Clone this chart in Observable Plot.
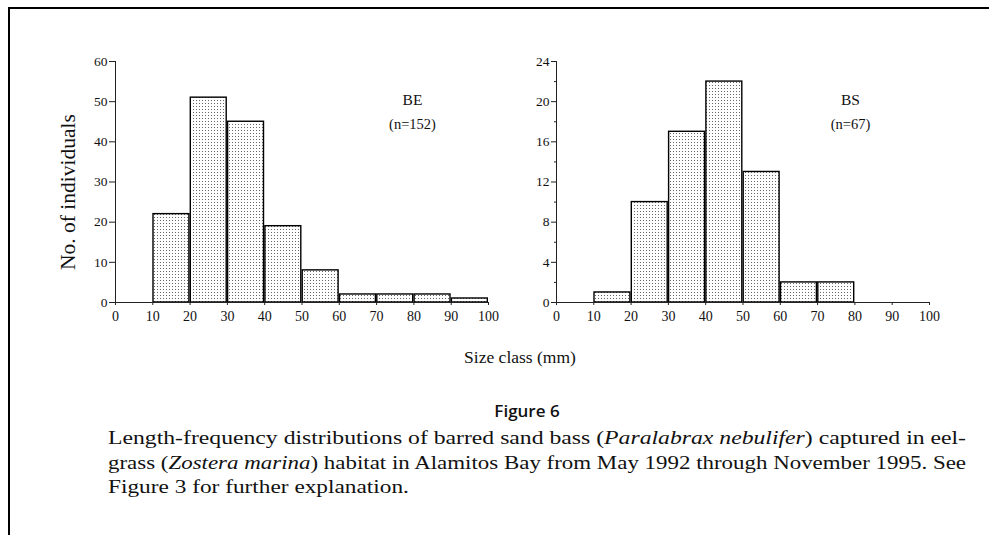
<!DOCTYPE html>
<html>
<head>
<meta charset="utf-8">
<script src="https://cdn.jsdelivr.net/npm/d3@7"></script>
<script src="https://cdn.jsdelivr.net/npm/@observablehq/plot@0.6"></script>
<style>
  html, body { margin: 0; padding: 0; background: #fff; }
  #root { position: relative; width: 989px; height: 535px; overflow: hidden; font-family: "Liberation Serif", serif; }
  #frame { position: absolute; left: 8px; top: 7px; width: 990px; height: 540px; border-left: 2px solid #000; border-top: 2px solid #000; }
  .chart { position: absolute; top: 0; }
  #xlabel { position: absolute; left: 0; width: 1040px; top: 347px; text-align: center; font-size: 17.5px; color: #111; }
  #fig { position: absolute; left: 0; width: 1054px; top: 399px; text-align: center; font-family: "Open Sans", sans-serif; font-weight: 600; font-size: 17px; color: #111; }
  #caption { position: absolute; left: 108px; top: 426px; font-family: "Liberation Serif", serif; font-size: 18.5px; line-height: 24.5px; color: #111; }
  #caption .l { white-space: nowrap; transform-origin: 0 50%; }
</style>
</head>
<body>
<div id="root">
  <svg width="0" height="0" style="position:absolute">
    <defs>
      <pattern id="dots" width="3" height="3" patternUnits="userSpaceOnUse">
        <rect width="3" height="3" fill="#fff"></rect>
        <rect x="1" y="1" width="1" height="1" fill="#666"></rect>
      </pattern>
    </defs>
  </svg>
  <div id="frame"></div>
  <div id="c1" class="chart" style="left:0px"></div>
  <div id="c2" class="chart" style="left:495px"></div>
  <div id="xlabel">Size class (mm)</div>
  <div id="fig">Figure 6</div>
  <div id="caption">
    <div class="l"><span>Length-frequency distributions of barred sand bass (<i>Paralabrax nebulifer</i>) captured in eel-</span></div>
    <div class="l"><span>grass (<i>Zostera marina</i>) habitat in Alamitos Bay from May 1992 through November 1995. See</span></div>
    <div class="l"><span>Figure 3 for further explanation.</span></div>
  </div>
</div>
<script>
// Size class lower bounds (mm)
const sizeClasses = [0, 10, 20, 30, 40, 50, 60, 70, 80, 90];
const classWidth = 10;
// Counts per size class
const countsBE = [0, 22, 51, 45, 19, 8, 2, 2, 2, 1];
const countsBS = [0, 1, 10, 17, 22, 13, 2, 2, 0, 0];
// Tick labels
const xTicks = [0, 10, 20, 30, 40, 50, 60, 70, 80, 90, 100];
const yTicksBE = [0, 10, 20, 30, 40, 50, 60];
const yTicksBS = [0, 4, 8, 12, 16, 20, 24];
const yMinorBS = [2, 6, 10, 14, 18, 22];
const panelBE = ["BE", "(n=152)"];
const panelBS = ["BS", "(n=67)"];
const yTitle = "No. of individuals";

const serif = "Liberation Serif";

function makeChart({counts, yTicks, yMinor, yMax, labels, width, marginLeft, marginRight, tickSize, labelDx, withTitle}) {
  const data = sizeClasses.map((lo, i) => ({lo, hi: lo + classWidth, n: counts[i]}));
  const marks = [
    Plot.rectY(data, {x1: "lo", x2: "hi", y: "n", fill: "url(#dots)", stroke: "#000", strokeWidth: 1.4, insetLeft: 0.7, insetRight: 0.7}),
    Plot.ruleY([0], {stroke: "#222", strokeWidth: 1.2}),
    Plot.ruleX([0], {stroke: "#222", strokeWidth: 1}),
    Plot.axisY({ticks: yTicks, tickSize: tickSize, tickPadding: 2, fontSize: 13.5, stroke: "#222", fill: "#111", label: null}),
    Plot.axisX({ticks: xTicks, tickSize: 3, tickPadding: 6, fontSize: 14, stroke: "#222", fill: "#111", label: null, tickFormat: d => String(d)}),
    Plot.text([labels[0]], {text: d => d, frameAnchor: "top-right", textAnchor: "middle", lineAnchor: "middle", dx: labelDx, dy: 39, fontSize: 15.5, fill: "#111"}),
    Plot.text([labels[1]], {text: d => d, frameAnchor: "top-right", textAnchor: "middle", lineAnchor: "middle", dx: labelDx, dy: 63, fontSize: 14.5, fill: "#111"})
  ];
  if (yMinor) {
    marks.push(Plot.axisY({ticks: yMinor, tickSize: 2, text: null, stroke: "#222", label: null}));
  }
  if (withTitle) {
    marks.push(Plot.text([yTitle], {text: d => d, frameAnchor: "left", textAnchor: "middle", dx: -47, dy: 10, rotate: -90, fontSize: 21.5, fill: "#111"}));
  }
  const svg = Plot.plot({
    width, height: 340,
    marginLeft, marginRight, marginTop: 61, marginBottom: 38,
    style: {background: "transparent", overflow: "visible", fontFamily: serif, fontSize: "13px"},
    x: {domain: [0, 100]},
    y: {domain: [0, yMax]},
    marks
  });
  return svg;
}

document.getElementById("c1").append(makeChart({
  counts: countsBE, yTicks: yTicksBE, yMinor: null, yMax: 60, labels: panelBE,
  width: 495, marginLeft: 115, marginRight: 7, tickSize: 6, labelDx: -76, withTitle: true
}));
document.getElementById("c2").append(makeChart({
  counts: countsBS, yTicks: yTicksBS, yMinor: yMinorBS, yMax: 24, labels: panelBS,
  width: 441, marginLeft: 61, marginRight: 7, tickSize: 5, labelDx: -79, withTitle: false
}));

// stretch caption lines horizontally so they span the same width as the original
const lines = document.querySelectorAll("#caption .l");
const target = 858;
const w0 = lines[0].firstElementChild.getBoundingClientRect().width;
const w1 = lines[1].firstElementChild.getBoundingClientRect().width;
const s0 = target / w0, s1 = target / w1;
lines[0].style.transform = `scaleX(${s0})`;
lines[1].style.transform = `scaleX(${s1})`;
lines[2].style.transform = `scaleX(${(s0 + s1) / 2})`;
</script>
</body>
</html>
